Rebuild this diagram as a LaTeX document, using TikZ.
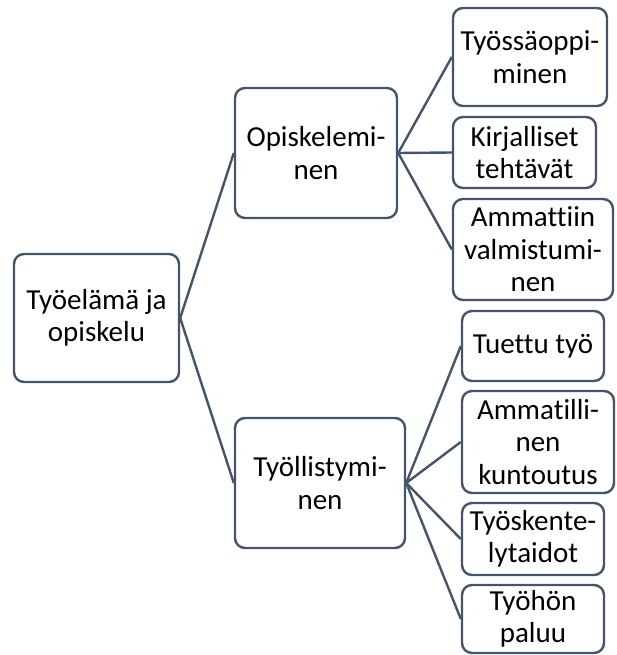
\documentclass[tikz,border=0pt]{standalone}
\usepackage{fontspec}
\setmainfont{Carlito}[Ligatures=CommonOff]
\definecolor{edge}{HTML}{44546A}
\begin{document}
\begin{tikzpicture}[x=1pt,y=-1pt,
  box/.style={draw=edge, line width=2.4pt, fill=white, rounded corners=10pt,
    align=center, inner sep=0pt, font=\fontsize{29}{32.5}\selectfont},
  link/.style={draw=edge, line width=2.4pt}]
\useasboundingbox (0,0) rectangle (616,655);
% root
\node[box, minimum width=165pt, minimum height=128pt] (root) at (96.5,318) {Työelämä ja\\opiskelu};
% second level
\node[box, minimum width=162pt, minimum height=130pt] (opis) at (316,153) {Opiskelemi-\\nen};
\node[box, minimum width=170pt, minimum height=130pt] (tyol) at (320,483) {Työllistymi-\\nen};
% leaves under Opiskeleminen
\node[box, minimum width=154pt, minimum height=98pt] (l1) at (530,57) {Työssäoppi-\\minen};
\node[box, minimum width=143pt, minimum height=71pt] (l2) at (524.5,152.5) {Kirjalliset\\tehtävät};
\node[box, minimum width=160pt, minimum height=101pt] (l3) at (533,249.5) {Ammattiin\\valmistumi-\\nen};
% leaves under Työllistyminen
\node[box, minimum width=142pt, minimum height=70pt] (l4) at (533,346) {Tuettu työ};
\node[box, minimum width=152pt, minimum height=102pt] (l5) at (538,442) {Ammatilli-\\nen\\kuntoutus};
\node[box, minimum width=142pt, minimum height=72pt] (l6) at (533,539) {Työskente-\\lytaidot};
\node[box, minimum width=142pt, minimum height=68pt] (l7) at (533,619) {Työhön\\paluu};
% connectors
\draw[link] (root.east) -- (opis.west);
\draw[link] (root.east) -- (tyol.west);
\draw[link] (opis.east) -- (l1.west);
\draw[link] (opis.east) -- (l2.west);
\draw[link] (opis.east) -- (l3.west);
\draw[link] (tyol.east) -- (l4.west);
\draw[link] (tyol.east) -- (l5.west);
\draw[link] (tyol.east) -- (l6.west);
\draw[link] (tyol.east) -- (l7.west);
\end{tikzpicture}
\end{document}
